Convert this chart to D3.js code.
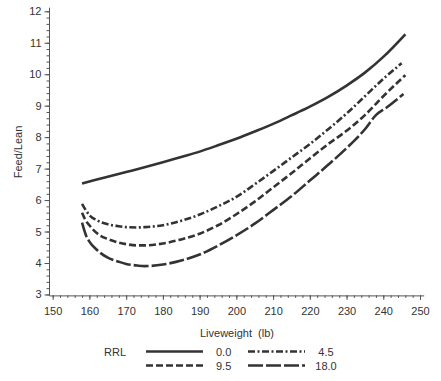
<!DOCTYPE html>
<html>
<head>
<meta charset="utf-8">
<script src="https://cdn.jsdelivr.net/npm/d3@7/dist/d3.min.js"></script>
<style>
  html, body { margin: 0; padding: 0; background: #fff; }
  text { font-family: "Liberation Sans", Arial, sans-serif; fill: #333; }
</style>
</head>
<body>
<svg id="chart" width="441" height="381"></svg>
<script>
// ---- data ----
const xTicks = [150, 160, 170, 180, 190, 200, 210, 220, 230, 240, 250];
const yTicks = [3, 4, 5, 6, 7, 8, 9, 10, 11, 12];
const seriesNames = ["0.0", "4.5", "9.5", "18.0"];

const w00 = [158, 165, 170, 175, 180, 185, 190, 195, 200, 205, 210, 215, 220, 225, 230, 235, 240, 246];
const v00 = [6.53, 6.74, 6.89, 7.04, 7.2, 7.37, 7.54, 7.74, 7.95, 8.18, 8.42, 8.69, 8.97, 9.28, 9.64, 10.05, 10.55, 11.27];

const w45 = [158, 159, 160, 162, 165, 168, 170, 173, 175, 180, 185, 190, 195, 200, 205, 210, 215, 220, 225, 230, 235, 240, 245];
const v45 = [5.88, 5.68, 5.52, 5.36, 5.23, 5.17, 5.14, 5.13, 5.14, 5.2, 5.34, 5.54, 5.8, 6.1, 6.5, 6.92, 7.35, 7.78, 8.25, 8.75, 9.3, 9.85, 10.35];

const w95 = [158, 159, 160, 162, 165, 168, 170, 173, 175, 180, 185, 190, 195, 200, 205, 210, 215, 220, 225, 230, 235, 240, 246];
const v95 = [5.6, 5.35, 5.2, 4.95, 4.76, 4.65, 4.6, 4.56, 4.56, 4.62, 4.75, 4.93, 5.2, 5.55, 5.95, 6.4, 6.85, 7.32, 7.78, 8.2, 8.7, 9.3, 9.97];

const w180 = [158, 159, 160, 162, 165, 168, 170, 173, 175, 180, 185, 190, 195, 200, 205, 210, 215, 220, 225, 230, 235, 238, 241, 245.5];
const v180 = [5.28, 4.9, 4.68, 4.42, 4.17, 4.04, 3.97, 3.92, 3.9, 3.95, 4.08, 4.27, 4.55, 4.88, 5.25, 5.68, 6.12, 6.62, 7.12, 7.65, 8.25, 8.7, 8.95, 9.37];

// ---- layout ----
const svg = d3.select("#chart");
const x = d3.scaleLinear().domain([149, 251]).range([49, 423.7]);
const y = d3.scaleLinear().domain([2.97, 12.13]).range([295.4, 7.2]);

const axisColor = "#555";

// minor ticks
const xMinor = d3.range(150, 251, 2);
const yMinor = d3.range(30, 121, 2).map(d => d / 10);

const gx = svg.append("g").attr("transform", `translate(0,${y(2.97)})`);
gx.call(d3.axisBottom(x).tickValues(xMinor).tickSize(2.5).tickSizeOuter(0).tickFormat(""));
gx.call(g => g.selectAll(".domain").remove());
const gx2 = svg.append("g").attr("transform", `translate(0,${y(2.97)})`);
gx2.call(d3.axisBottom(x).tickValues(xTicks).tickSize(4.5).tickSizeOuter(0).tickPadding(7).tickFormat(d3.format("d")));

const gy = svg.append("g").attr("transform", `translate(${x(149)},0)`);
gy.call(d3.axisLeft(y).tickValues(yMinor).tickSize(2.5).tickSizeOuter(0).tickFormat(""));
gy.call(g => g.selectAll(".domain").remove());
const gy2 = svg.append("g").attr("transform", `translate(${x(149)},0)`);
gy2.call(d3.axisLeft(y).tickValues(yTicks).tickSize(4.5).tickSizeOuter(0).tickPadding(3).tickFormat(d3.format("d")));

svg.selectAll(".domain").attr("stroke", axisColor).attr("stroke-width", 1);
svg.selectAll(".tick line").attr("stroke", axisColor).attr("stroke-width", 1);
svg.selectAll(".tick text").attr("font-size", 11).attr("fill", "#333")
   .attr("font-family", "'Liberation Sans', Arial, sans-serif");

// axis titles
svg.append("text").attr("x", 237).attr("y", 337).attr("text-anchor", "middle")
  .attr("font-size", 11).style("white-space", "pre").text("Liveweight  (lb)");
svg.append("text").attr("transform", "translate(22,152) rotate(-90)")
  .attr("text-anchor", "middle").attr("font-size", 11).text("Feed/Lean");

// ---- curves ----
const dashes = ["none", "7,2.5,2,2.5", "7,3", "15,3"];
const series = [
  { name: seriesNames[0], w: w00, v: v00 },
  { name: seriesNames[1], w: w45, v: v45 },
  { name: seriesNames[2], w: w95, v: v95 },
  { name: seriesNames[3], w: w180, v: v180 }
];
const line = d3.line().x(d => x(d[0])).y(d => y(d[1])).curve(d3.curveMonotoneX);
const lineColor = "#333";
series.forEach((s, i) => {
  svg.append("path")
    .datum(s.w.map((wv, k) => [wv, s.v[k]]))
    .attr("d", line)
    .attr("fill", "none")
    .attr("stroke", lineColor)
    .attr("stroke-width", 2.6)
    .attr("stroke-dasharray", dashes[i]);
});

// ---- legend ----
svg.append("text").attr("x", 104).attr("y", 356).attr("font-size", 11).text("RRL");
const legPos = [
  { lx: 146, ly: 351.5, tx: 216, anchor: "start" },
  { lx: 248, ly: 351.5, tx: 326, anchor: "middle" },
  { lx: 146, ly: 365.5, tx: 216, anchor: "start" },
  { lx: 248, ly: 365.5, tx: 326, anchor: "middle" }
];
series.forEach((s, i) => {
  const p = legPos[i];
  svg.append("line").attr("x1", p.lx).attr("x2", p.lx + 57)
    .attr("y1", p.ly).attr("y2", p.ly)
    .attr("stroke", lineColor).attr("stroke-width", 2.6)
    .attr("stroke-dasharray", dashes[i]);
  svg.append("text").attr("x", p.tx).attr("y", p.ly + 4).attr("font-size", 11)
    .attr("text-anchor", p.anchor).text(s.name);
});
</script>
</body>
</html>
